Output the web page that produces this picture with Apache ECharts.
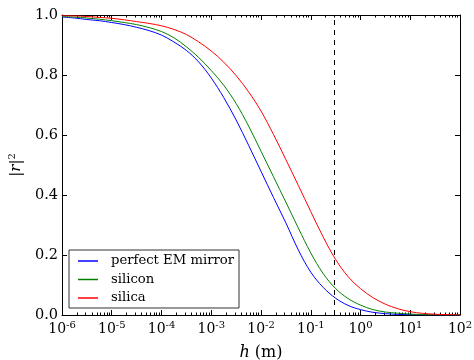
<!DOCTYPE html>
<html>
<head>
<meta charset="utf-8">
<script src="https://cdn.jsdelivr.net/npm/echarts@6/dist/echarts.min.js"></script>
<style>
  html, body { margin: 0; padding: 0; background: #fff; }
  #chart { width: 474px; height: 360px; }
</style>
</head>
<body>
<div id="chart"></div>
<script>
// exponents of h (m), quarter decades from 1e-6 to 1e2
const hExp = [-6, -5.75, -5.5, -5.25, -5, -4.75, -4.5, -4.25, -4, -3.75, -3.5, -3.25, -3, -2.75, -2.5, -2.25,
  -2, -1.75, -1.5, -1.25, -1, -0.75, -0.5, -0.25, 0, 0.25, 0.5, 0.75, 1, 1.25, 1.5, 1.75, 2];

const mirror = [0.993, 0.990, 0.985, 0.981, 0.975, 0.968, 0.959, 0.948, 0.933, 0.910, 0.882, 0.843, 0.790, 0.725, 0.650, 0.566,
  0.479, 0.392, 0.307, 0.217, 0.143, 0.092, 0.056, 0.032, 0.018, 0.009, 0.0045, 0.002, 0.001, 0.0005, 0.0002, 0.0001, 0.00005];
const silicon = [0.995, 0.993, 0.990, 0.986, 0.981, 0.975, 0.968, 0.958, 0.945, 0.924, 0.894, 0.858, 0.815, 0.766, 0.705, 0.630,
  0.546, 0.461, 0.376, 0.290, 0.207, 0.138, 0.088, 0.055, 0.033, 0.018, 0.010, 0.006, 0.003, 0.0015, 0.0007, 0.0003, 0.0001];
const silica = [0.998, 0.997, 0.995, 0.992, 0.989, 0.984, 0.978, 0.972, 0.964, 0.952, 0.935, 0.910, 0.880, 0.843, 0.798, 0.744,
  0.680, 0.602, 0.518, 0.432, 0.345, 0.260, 0.185, 0.128, 0.088, 0.058, 0.036, 0.021, 0.011, 0.0055, 0.0025, 0.001, 0.0005];

const seriesNames = ['perfect EM mirror', 'silicon', 'silica'];
const markerH = 0.3;

const font = 'DejaVu Serif';
const pts = arr => arr.map((v, i) => [Math.pow(10, hExp[i]), v]);

const chart = echarts.init(document.getElementById('chart'));

const xBase = {
  type: 'log',
  logBase: 10,
  min: 1e-6,
  max: 100,
  splitNumber: 8,
  gridIndex: 0,
  axisLine: { onZero: false, lineStyle: { color: '#000', width: 1 } },
  axisTick: { inside: true, length: 5, lineStyle: { color: '#000' } },
  minorTick: { show: true, splitNumber: 9, length: 2.5, lineStyle: { color: '#000' } },
  splitLine: { show: false },
  minorSplitLine: { show: false }
};

const yBase = {
  type: 'value',
  min: 0,
  max: 1,
  interval: 0.2,
  axisLine: { show: true, onZero: false, lineStyle: { color: '#000', width: 1 } },
  axisTick: { show: true, inside: true, length: 5, lineStyle: { color: '#000' } },
  splitLine: { show: false }
};

const lineSeries = (name, data, color) => ({
  name: name,
  type: 'line',
  data: pts(data),
  smooth: 0.35,
  showSymbol: false,
  color: color,
  lineStyle: { width: 1 }
});

const first = lineSeries(seriesNames[0], mirror, '#0000ff');
first.markLine = {
  silent: true,
  symbol: 'none',
  label: { show: false },
  lineStyle: { color: '#000', type: [5, 5], width: 1 },
  data: [{ xAxis: markerH }]
};

chart.setOption({
  animation: false,
  backgroundColor: '#fff',
  textStyle: { fontFamily: font },
  grid: { left: 62, right: 14, top: 15, bottom: 45, outerBoundsMode: 'none', containLabel: false },
  xAxis: [
    Object.assign({}, xBase, {
      position: 'bottom',
      name: '{i|h} (m)',
      nameLocation: 'middle',
      nameGap: 30,
      nameTextStyle: {
        fontFamily: font, fontSize: 16, color: '#000',
        rich: { i: { fontFamily: font, fontStyle: 'italic', fontSize: 16, color: '#000' } }
      },
      axisLabel: {
        margin: 5,
        color: '#000',
        formatter: v => '{b|10}{s|' + Math.round(Math.log10(v)) + '}',
        rich: {
          b: { fontFamily: font, fontSize: 14, color: '#000', lineHeight: 16, verticalAlign: 'bottom' },
          s: { fontFamily: font, fontSize: 10, color: '#000', lineHeight: 16, verticalAlign: 'top', padding: [0, 0, 6, 0] }
        }
      }
    }),
    Object.assign({}, xBase, {
      position: 'top',
      axisLabel: { show: false }
    })
  ],
  yAxis: [
    Object.assign({}, yBase, {
      position: 'left',
      name: '|{i|r}|{s|2}',
      nameLocation: 'middle',
      nameGap: 33,
      nameRotate: 90,
      nameTextStyle: {
        fontFamily: font, fontSize: 15, color: '#000',
        rich: {
          i: { fontFamily: font, fontStyle: 'italic', fontSize: 15, color: '#000' },
          s: { fontFamily: font, fontSize: 10, color: '#000', verticalAlign: 'top', padding: [0, 0, 8, 0] }
        }
      },
      axisLabel: {
        margin: 4,
        color: '#000',
        fontFamily: font,
        fontSize: 14.5,
        formatter: v => v.toFixed(1)
      }
    }),
    Object.assign({}, yBase, {
      position: 'right',
      axisLabel: { show: false }
    })
  ],
  legend: {
    orient: 'vertical',
    left: 69,
    top: 250,
    data: seriesNames,
    icon: 'rect',
    itemWidth: 20,
    itemHeight: 1.5,
    itemGap: 2.5,
    padding: [3, 5, 2, 9],
    borderColor: '#333',
    borderWidth: 1,
    borderRadius: 0,
    backgroundColor: '#fff',
    textStyle: { fontFamily: font, fontSize: 13.2, color: '#000', lineHeight: 16, padding: [0, 0, 0, 8] }
  },
  series: [
    first,
    lineSeries(seriesNames[1], silicon, '#008000'),
    lineSeries(seriesNames[2], silica, '#ff0000')
  ]
});
</script>
</body>
</html>
